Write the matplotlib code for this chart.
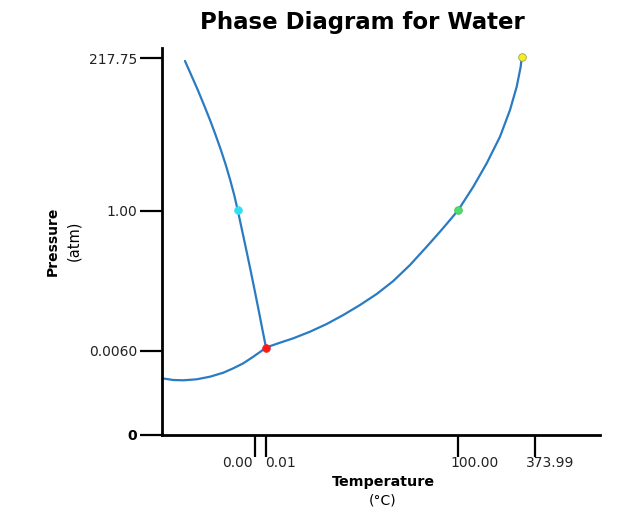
import matplotlib
matplotlib.use("Agg")
import matplotlib.pyplot as plt
from matplotlib.transforms import offset_copy

# schematic axes: positions are not to scale, only the labels carry real values
xtick_pos = [93, 104, 296, 373]
xtick_lab = ["0.00", "0.01", "100.00", "373.99"]
ytick_pos = [0, 84, 224, 377]
ytick_lab = ["0", "0.0060", "1.00", "217.75"]

# phase boundaries (schematic units)
melt_x = [23, 29.2, 35.8, 42, 48, 53.6, 58.9, 63.8, 68.2, 72.2, 75.7,
          80, 84.3, 88.5, 92.6, 96.6, 100.5, 104]
melt_y = [374, 360, 345, 330, 315, 300, 285, 270, 255, 240, 225,
          205, 185, 165, 145, 125, 105, 87.5]
vap_x = [104, 118, 131.3, 148, 164.7, 181.3, 198, 214.7, 231.3, 248, 264.7, 278, 288,
         296.3, 311.3, 324.7, 338, 348, 354.7, 358.7, 359.7]
vap_y = [87.5, 92.3, 96.7, 103.3, 111, 120, 130, 141, 154, 170, 188.3, 203.3, 215,
         225, 248.3, 271.7, 298.3, 325, 348.3, 368.3, 377.7]
sub_x = [0, 11.3, 21.3, 34.7, 48, 61.3, 71.3, 81.3, 91.3, 98, 104]
sub_y = [56.7, 55, 54.7, 55.7, 58.3, 62.3, 66.7, 71.7, 78.3, 83, 87.5]

# special points: triple, normal melting, normal boiling, critical
pt_x = [104, 75.7, 296.3, 359.7]
pt_y = [87.5, 225, 225, 377.7]
pt_col = ["#ff1a1a", "#2ee0f5", "#4ede6a", "#f2ee2a"]
pt_edge = ["#ff1a1a", "#2ee0f5", "#3cc458", "#a8a040"]

line_col = "#2a7bc2"

fig = plt.figure(figsize=(6.39, 5.2), dpi=100)
ax = fig.add_axes([162/639, 85/520, 438/639, 387/520])

for xs, ys in [(sub_x, sub_y), (melt_x, melt_y), (vap_x, vap_y)]:
    ax.plot(xs, ys, color=line_col, lw=1.6, solid_capstyle='round',
            solid_joinstyle='round', clip_on=False)
for x, y, c, e in zip(pt_x, pt_y, pt_col, pt_edge):
    ax.plot(x, y, 'o', ms=5.5, color=c, mec=e, mew=0.6, zorder=5, clip_on=False)

ax.set_xlim(0, 438)
ax.set_ylim(0, 387)

for s in ['top', 'right']:
    ax.spines[s].set_visible(False)
for s in ['left', 'bottom']:
    ax.spines[s].set_linewidth(2)
    ax.spines[s].set_color('black')

ax.set_yticks(ytick_pos)
ax.set_yticklabels(ytick_lab, fontsize=10, color='#222222')
ax.yaxis.get_ticklabels()[0].set_fontweight('bold')
ax.yaxis.get_ticklabels()[0].set_color('black')
ax.set_xticks(xtick_pos)
ax.set_xticklabels([])
ax.tick_params(axis='both', length=16, width=1.6, color='black', pad=2)

# x tick labels sit slightly off their ticks in the original
lab_dx = [-18, 14, 17, 15]
for p, lab, dx in zip(xtick_pos, xtick_lab, lab_dx):
    tr = offset_copy(ax.get_xaxis_transform(), fig=fig, x=dx, y=-28, units='dots')
    ax.text(p, 0, lab, transform=tr, ha='center', va='center', fontsize=10,
            color='#222222')

fig.text(362/639, 1 - 22/520, "Phase Diagram for Water", ha='center', va='center',
         fontsize=16.5, fontweight='bold')
fig.text(383/639, 1 - 482/520, "Temperature", ha='center', va='center',
         fontsize=10.3, fontweight='bold')
fig.text(383/639, 1 - 500/520, "(\u00b0C)", ha='center', va='center', fontsize=10)
fig.text(53/639, 1 - 241/520, "Pressure", ha='center', va='center', rotation=90,
         fontsize=10, fontweight='bold')
fig.text(74/639, 1 - 241/520, "(atm)", ha='center', va='center', rotation=90,
         fontsize=10.5)

fig.savefig("out.png", dpi=100)
